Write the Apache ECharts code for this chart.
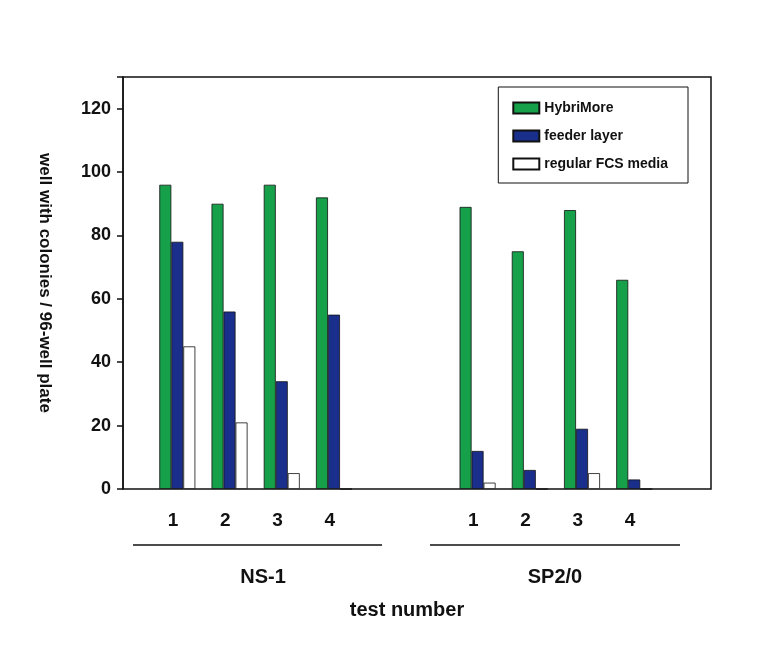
<!DOCTYPE html>
<html><head><meta charset="utf-8">
<script src="https://cdn.jsdelivr.net/npm/echarts@6/dist/echarts.min.js"></script>
<style>html,body{margin:0;padding:0;background:#fff}#c{width:766px;height:646px}</style>
</head><body><div id="c"></div>
<script>
var positions = [1, 2, 3, 4, 6.75, 7.75, 8.75, 9.75];
var tickLabels = ['1', '2', '3', '4', '1', '2', '3', '4'];
var hybriMore = [96, 90, 96, 92, 89, 75, 88, 66];
var feeder = [78, 56, 34, 55, 12, 6, 19, 3];
var regular = [45, 21, 5, 0, 2, 0, 5, 0];

// bars sit slightly right of the tick label
function pairs(vals) {
    return positions.map(function (p, i) { return [p + 0.08, vals[i]]; });
}

var chart = echarts.init(document.getElementById('c'));
var font = 'Liberation Sans, Arial, sans-serif';
var option = {
    animation: false,
    grid: { left: 123, right: 55, top: 77, bottom: 157, show: true, borderColor: '#111', borderWidth: 1.5 },
    legend: {
        right: 78, top: 87, orient: 'vertical', icon: 'rect', itemWidth: 26, itemHeight: 11, itemGap: 14,
        borderColor: '#111', borderWidth: 1, padding: [14, 20, 12, 14],
        textStyle: { fontFamily: font, fontSize: 14, fontWeight: 'bold', color: '#111' },
        data: ['HybriMore', 'feeder layer', 'regular FCS media']
    },
    xAxis: {
        type: 'value', min: 0.04, max: 11.3,
        splitLine: { show: false },
        axisLine: { show: false },
        axisTick: { show: false },
        axisLabel: {
            customValues: positions, margin: 22,
            fontFamily: font, fontSize: 19, fontWeight: 'bold', color: '#111',
            formatter: function (v) {
                var i = positions.indexOf(v);
                return i >= 0 ? tickLabels[i] : '';
            }
        }
    },
    yAxis: {
        type: 'value', min: 0, max: 130, interval: 20,
        name: 'well with colonies / 96-well plate', nameLocation: 'middle', nameGap: 70, nameRotate: -90,
        nameTextStyle: { fontFamily: font, fontSize: 17, fontWeight: 'bold', color: '#111' },
        splitLine: { show: false },
        axisLine: { show: true, lineStyle: { color: '#111', width: 1.5 } },
        axisTick: { show: true, length: 6, lineStyle: { color: '#111', width: 1.5 } },
        axisLabel: {
            fontFamily: font, fontSize: 18, fontWeight: 'bold', color: '#111', margin: 12,
            formatter: function (v) { return v > 120 ? '' : v; }
        }
    },
    series: [
        { name: 'HybriMore', type: 'bar', barWidth: 12, barGap: '0%', data: pairs(hybriMore),
          itemStyle: { color: '#16a04a', borderColor: '#111', borderWidth: 0.8 } },
        { name: 'feeder layer', type: 'bar', barWidth: 12, barGap: '0%', data: pairs(feeder),
          itemStyle: { color: '#1a2f8c', borderColor: '#111', borderWidth: 0.8 } },
        { name: 'regular FCS media', type: 'bar', barWidth: 12, barGap: '0%', data: pairs(regular),
          itemStyle: { color: '#fff', borderColor: '#111', borderWidth: 0.8 } }
    ],
    graphic: [
        { type: 'line', shape: { x1: 133, y1: 545, x2: 382, y2: 545 }, style: { stroke: '#111', lineWidth: 1.5 } },
        { type: 'line', shape: { x1: 430, y1: 545, x2: 680, y2: 545 }, style: { stroke: '#111', lineWidth: 1.5 } },
        { type: 'text', x: 263, y: 577, style: { text: 'NS-1', font: 'bold 20px ' + font, fill: '#111', align: 'center', verticalAlign: 'middle' } },
        { type: 'text', x: 555, y: 577, style: { text: 'SP2/0', font: 'bold 20px ' + font, fill: '#111', align: 'center', verticalAlign: 'middle' } },
        { type: 'text', x: 407, y: 610, style: { text: 'test number', font: 'bold 20px ' + font, fill: '#111', align: 'center', verticalAlign: 'middle' } }
    ]
};
chart.setOption(option);
</script></body></html>
